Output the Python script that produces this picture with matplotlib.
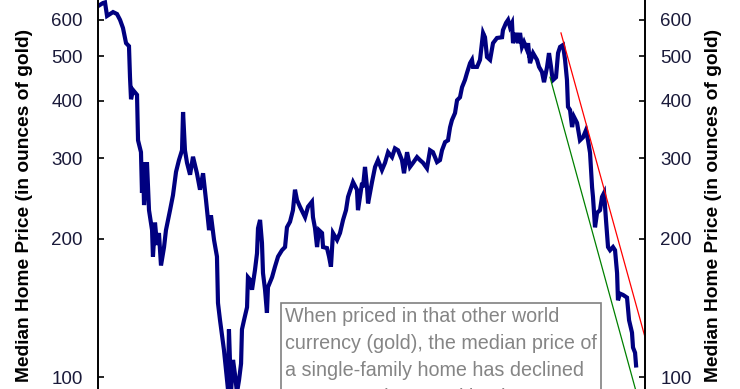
import matplotlib
matplotlib.use("Agg")
import matplotlib.pyplot as plt
from matplotlib.ticker import FixedLocator, FixedFormatter, NullLocator

# Median home price in ounces of gold (decimal years)
years = [1969.40, 1969.79, 1969.95, 1970.11, 1970.58, 1970.89, 1971.13, 1971.36, 1971.60, 1971.83,
         1971.91, 1971.99, 1972.15, 1972.46, 1972.54, 1972.77, 1972.85, 1972.93, 1973.01, 1973.24,
         1973.40, 1973.64, 1973.71, 1973.87, 1974.03, 1974.18, 1974.34, 1974.58, 1974.73, 1975.05,
         1975.28, 1975.52, 1975.75, 1975.99, 1976.07, 1976.22, 1976.38, 1976.62, 1976.85, 1977.16,
         1977.40, 1977.64, 1977.87, 1978.11, 1978.26, 1978.50, 1978.73, 1978.81, 1978.97, 1979.28,
         1979.60, 1979.67, 1979.83, 1979.99, 1980.15, 1980.30, 1980.46, 1980.62, 1980.69, 1980.85,
         1981.09, 1981.16, 1981.32, 1981.48, 1981.71, 1981.87, 1981.95, 1982.11, 1982.26, 1982.34,
         1982.50, 1982.65, 1982.73, 1983.05, 1983.28, 1983.52, 1983.83, 1984.07, 1984.22, 1984.46,
         1984.69, 1984.85, 1985.01, 1985.24, 1985.64, 1985.87, 1986.18, 1986.26, 1986.42, 1986.58,
         1986.73, 1986.97, 1987.05, 1987.36, 1987.52, 1987.67, 1987.83, 1988.15, 1988.38, 1988.62,
         1988.85, 1989.01, 1989.40, 1989.71, 1989.79, 1990.11, 1990.18, 1990.34, 1990.50, 1990.58,
         1990.89, 1991.13, 1991.36, 1991.67, 1991.91, 1992.15, 1992.46, 1992.69, 1992.93, 1993.24,
         1993.40, 1993.64, 1993.87, 1994.11, 1994.42, 1994.65, 1994.89, 1995.20, 1995.44, 1995.67,
         1995.99, 1996.22, 1996.38, 1996.62, 1996.85, 1997.01, 1997.16, 1997.40, 1997.56, 1997.79,
         1997.95, 1998.18, 1998.34, 1998.58, 1998.73, 1998.81, 1999.13, 1999.36, 1999.60, 1999.75,
         1999.91, 2000.15, 2000.38, 2000.69, 2001.09, 2001.16, 2001.40, 2001.56, 2001.71, 2001.87,
         2001.95, 2002.18, 2002.34, 2002.50, 2002.65, 2002.81, 2003.05, 2003.13, 2003.28, 2003.52,
         2003.83, 2003.99, 2004.22, 2004.38, 2004.62, 2004.77, 2004.93, 2005.01, 2005.09, 2005.32,
         2005.48, 2005.64, 2005.87, 2006.03, 2006.18, 2006.26, 2006.42, 2006.58, 2006.73, 2006.97,
         2007.20, 2007.44, 2007.67, 2007.83, 2007.99, 2008.15, 2008.22, 2008.38, 2008.54, 2008.77,
         2008.93, 2009.09, 2009.24, 2009.40, 2009.56, 2009.79, 2009.95, 2010.11, 2010.18, 2010.34,
         2010.58, 2010.89, 2011.05, 2011.28, 2011.36, 2011.52, 2011.60]
price_oz = [643, 653, 655, 612, 624, 618, 600, 576, 534, 526,
            450, 403, 422, 412, 328, 309, 252, 294, 237, 294,
            231, 209, 183, 217, 194, 206, 175, 192, 209, 231,
            249, 280, 297, 312, 378, 312, 293, 276, 302, 278,
            256, 278, 243, 209, 225, 199, 183, 145, 133, 114.5,
            93.7, 127, 92.5, 109, 101, 92.5, 98.5, 107, 127, 133,
            142, 165, 163, 155, 171, 186, 211, 220, 196, 168.5,
            155, 138, 157, 165, 174, 183, 189, 192, 212, 218,
            231, 256, 243, 235, 223, 235, 241, 223, 211, 192,
            209, 206, 192, 191, 183, 174, 206, 199, 206, 220,
            231, 247, 266, 256, 231, 265, 259, 287, 259, 239,
            266, 287, 297, 282.5, 293, 309, 301.5, 315, 312, 297,
            278, 309, 287, 293, 301.5, 297, 293, 285, 312, 309,
            294, 297, 312, 325, 328, 350, 363, 376, 401, 407,
            428, 444, 460, 483, 491, 474, 474, 491, 562, 550,
            498, 491, 534, 548, 550, 570, 591, 600, 579, 591,
            534, 562, 534, 562, 524, 537, 516, 534, 483, 508,
            491, 474, 462, 439, 474, 508, 474, 455, 444, 450,
            508, 524, 529, 491, 444, 388, 382, 350.5, 369, 358,
            328, 333, 345, 328, 308, 259, 247, 212, 228, 231,
            247, 252, 220, 192, 189, 192, 189, 168.5, 147, 152,
            151, 149, 133, 125, 116, 113, 106]

# trend channel lines (start / end)
red_years = [2005.71, 2012.30]
red_vals = [562, 122.2]
green_years = [2004.85, 2012.30]
green_vals = [450, 79.0]

yticks = [100, 200, 300, 400, 500, 600]
ylabels = ['100', '200', '300', '400', '500', '600']

note = ("When priced in that other world\n"
        "currency (gold), the median price of\n"
        "a single-family home has declined\n"
        "over 80% since peaking in 2001")

plt.rcParams['font.family'] = ['Liberation Sans', 'DejaVu Sans']

fig = plt.figure(figsize=(7.4, 3.89), dpi=100)
ax = fig.add_axes([98 / 740, 0, 547 / 740, 1])

ax.plot(years, price_oz, color='#000080', lw=3.0, solid_joinstyle='miter')
ax.plot(red_years, red_vals, color='#ff0000', lw=0.9)
ax.plot(green_years, green_vals, color='#008000', lw=0.9)

ax.set_yscale('log')
ax.set_ylim(94.2, 663)
ax.set_xlim(1969.4, 2012.3)

ax.yaxis.set_major_locator(FixedLocator(yticks))
ax.yaxis.set_major_formatter(FixedFormatter(ylabels))
ax.yaxis.set_minor_locator(NullLocator())

ax.tick_params(axis='y', which='major', direction='in', length=4, width=1.2,
               left=True, right=True, labelleft=True, labelright=True,
               labelsize=13.5, labelcolor='#1a1a3a', pad=11)
ax.tick_params(axis='x', bottom=False, labelbottom=False)
ax.spines['top'].set_visible(False)
ax.spines['bottom'].set_visible(False)
for s in ['left', 'right']:
    ax.spines[s].set_linewidth(1.4)

fig.text(25 / 740, 1 - 205 / 389, 'Median Home Price (in ounces of gold)',
         rotation=90, ha='center', va='center', fontsize=13.8, fontweight='bold')
fig.text(713 / 740, 1 - 205 / 389, 'Median Home Price (in ounces of gold)',
         rotation=90, ha='center', va='center', fontsize=13.8, fontweight='bold')

# annotation box, cut off at the bottom edge as in the original
fig.text(285 / 740, 1 - 307 / 389, note, ha='left', va='top', fontsize=14.2,
         color='#858585', linespacing=1.53,
         bbox=dict(boxstyle='square,pad=0.2', fc='white', ec='#808080', lw=1.2))

fig.savefig('out.png', dpi=100)
